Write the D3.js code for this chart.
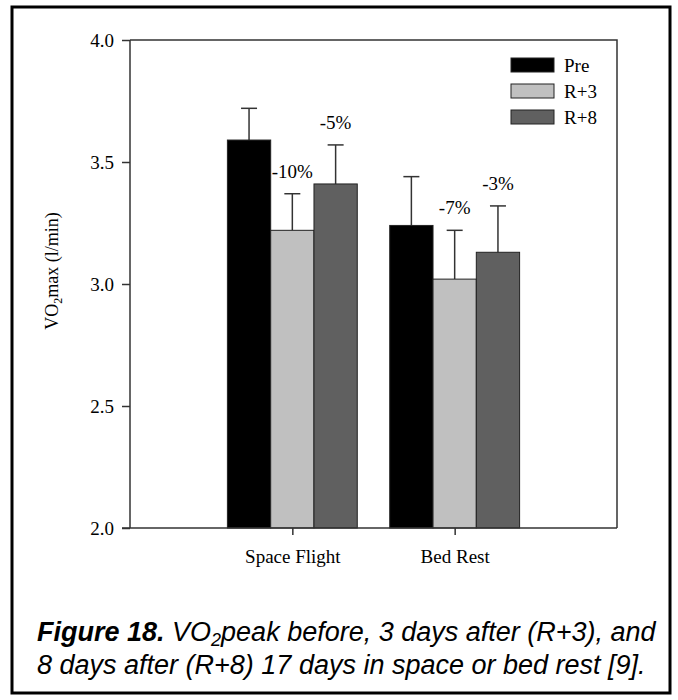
<!DOCTYPE html>
<html>
<head>
<meta charset="utf-8">
<script src="https://cdn.jsdelivr.net/npm/d3@7"></script>
<style>
  html, body { margin: 0; padding: 0; background: #fff; }
  svg { display: block; }
</style>
</head>
<body>
<svg id="chart" width="678" height="700"></svg>
<script>
// Conditions on the x axis and measurement times within each condition
const categories = ["Space Flight", "Bed Rest"];
const series = ["Pre", "R+3", "R+8"];
const seriesColors = ["#000000", "#c0c0c0", "#606060"];

// Mean VO2max (l/min) per condition, one array per measurement time
const preValues = [3.59, 3.24];
const r3Values = [3.22, 3.02];
const r8Values = [3.41, 3.13];

// Upper error bar (standard deviation) per condition
const preErrors = [0.13, 0.20];
const r3Errors = [0.15, 0.20];
const r8Errors = [0.16, 0.19];

// Percent change relative to Pre, shown above the R+3 and R+8 bars
const r3Change = ["-10%", "-7%"];
const r8Change = ["-5%", "-3%"];

const yTicks = [2.0, 2.5, 3.0, 3.5, 4.0];

const serif = "Liberation Serif, Times New Roman, serif";
const svg = d3.select("#chart");

// Outer figure frame
svg.append("rect")
  .attr("x", 12).attr("y", 7)
  .attr("width", 658).attr("height", 686)
  .attr("fill", "none").attr("stroke", "#000").attr("stroke-width", 3);

const plot = { left: 130, right: 617, top: 40, bottom: 528 };

const y = d3.scaleLinear().domain([2.0, 4.0]).range([plot.bottom, plot.top]);
const x = d3.scaleLinear().domain([0, 3]).range([plot.left, plot.right]);
const groupPos = categories.map((c, i) => i + 1);
const groupWidth = x(0.8) - x(0);
const x1 = d3.scaleBand().domain(series).range([-groupWidth / 2, groupWidth / 2]);

const values = [preValues, r3Values, r8Values];
const errors = [preErrors, r3Errors, r8Errors];
const labels = [null, r3Change, r8Change];

const bars = [];
series.forEach((s, si) => {
  categories.forEach((c, ci) => {
    bars.push({
      series: s, si, ci,
      value: values[si][ci],
      err: errors[si][ci],
      label: labels[si] ? labels[si][ci] : null
    });
  });
});

const barX = d => x(groupPos[d.ci]) + x1(d.series);
const barCx = d => barX(d) + x1.bandwidth() / 2;

// Error bars (drawn first so the bar top covers the stem base)
const eb = svg.append("g").attr("stroke", "#333").attr("stroke-width", 1.5).attr("fill", "none");
eb.selectAll("line.stem").data(bars).join("line")
  .attr("class", "stem")
  .attr("x1", barCx).attr("x2", barCx)
  .attr("y1", d => y(d.value)).attr("y2", d => y(d.value + d.err));
eb.selectAll("line.cap").data(bars).join("line")
  .attr("class", "cap")
  .attr("x1", d => barCx(d) - 8).attr("x2", d => barCx(d) + 8)
  .attr("y1", d => y(d.value + d.err)).attr("y2", d => y(d.value + d.err));

// Bars
svg.append("g").selectAll("rect").data(bars).join("rect")
  .attr("x", barX)
  .attr("y", d => y(d.value))
  .attr("width", x1.bandwidth())
  .attr("height", d => y(2.0) - y(d.value))
  .attr("fill", d => seriesColors[d.si])
  .attr("stroke", "#222")
  .attr("stroke-width", 1);

// Percent change labels
svg.append("g").selectAll("text").data(bars.filter(d => d.label)).join("text")
  .attr("x", barCx)
  .attr("y", d => y(d.value + d.err) - 16)
  .attr("text-anchor", "middle")
  .attr("font-family", serif)
  .attr("font-size", 19)
  .attr("fill", "#000")
  .text(d => d.label);

// Plot frame: top and right edges
svg.append("path")
  .attr("d", `M${plot.left},${plot.top}H${plot.right}V${plot.bottom}`)
  .attr("fill", "none").attr("stroke", "#333").attr("stroke-width", 1.5);

// Y axis
const yAxis = svg.append("g")
  .attr("transform", `translate(${plot.left},0)`)
  .call(d3.axisLeft(y).tickValues(yTicks).tickFormat(d3.format(".1f")).tickSize(8).tickPadding(8));
yAxis.select(".domain").attr("stroke", "#333").attr("stroke-width", 1.5)
  .attr("d", `M0,${plot.bottom}V${plot.top}`);
yAxis.selectAll(".tick line").attr("stroke", "#333").attr("stroke-width", 1.5);
yAxis.selectAll(".tick text")
  .attr("font-family", serif)
  .attr("font-size", 19).attr("fill", "#000");

// X axis
const xAxis = svg.append("g")
  .attr("transform", `translate(0,${plot.bottom})`)
  .call(d3.axisBottom(x).tickValues(groupPos).tickFormat((d, i) => categories[i]).tickSize(7).tickPadding(15));
xAxis.select(".domain").attr("stroke", "#333").attr("stroke-width", 1.5)
  .attr("d", `M${plot.left - 8},0H${plot.right}`);
xAxis.selectAll(".tick line").attr("stroke", "#333").attr("stroke-width", 1.5);
xAxis.selectAll(".tick text")
  .attr("font-family", serif)
  .attr("font-size", 19).attr("fill", "#000");

// Y axis title with subscript
const yTitle = svg.append("text")
  .attr("transform", "translate(58,271) rotate(-90)")
  .attr("text-anchor", "middle")
  .attr("font-family", serif)
  .attr("font-size", 18).attr("fill", "#000");
yTitle.append("tspan").text("VO");
yTitle.append("tspan").attr("font-size", 12).attr("dy", 4).text("2");
yTitle.append("tspan").attr("dy", -4).text("max (l/min)");

// Legend
const legend = svg.append("g");
series.forEach((s, i) => {
  const ly = 58 + i * 26;
  legend.append("rect")
    .attr("x", 511).attr("y", ly).attr("width", 43).attr("height", 14)
    .attr("fill", seriesColors[i]).attr("stroke", "#222").attr("stroke-width", 1);
  legend.append("text")
    .attr("x", 564).attr("y", ly + 14)
    .attr("font-family", serif)
    .attr("font-size", 19).attr("fill", "#000")
    .text(s);
});

// Figure caption
const cap = svg.append("g")
  .attr("font-family", "Liberation Sans, Arial, sans-serif")
  .attr("font-style", "italic")
  .attr("font-size", 27)
  .attr("fill", "#000");
const line1 = cap.append("text").attr("x", 37).attr("y", 641);
line1.append("tspan").attr("font-weight", "bold").text("Figure 18.");
line1.append("tspan").text(" VO");
line1.append("tspan").attr("font-size", 18).attr("dy", 5).text("2");
line1.append("tspan").attr("dy", -5).text("peak before, 3 days after (R+3), and");
cap.append("text").attr("x", 37).attr("y", 674)
  .text("8 days after (R+8) 17 days in space or bed rest [9].");
</script>
</body>
</html>
